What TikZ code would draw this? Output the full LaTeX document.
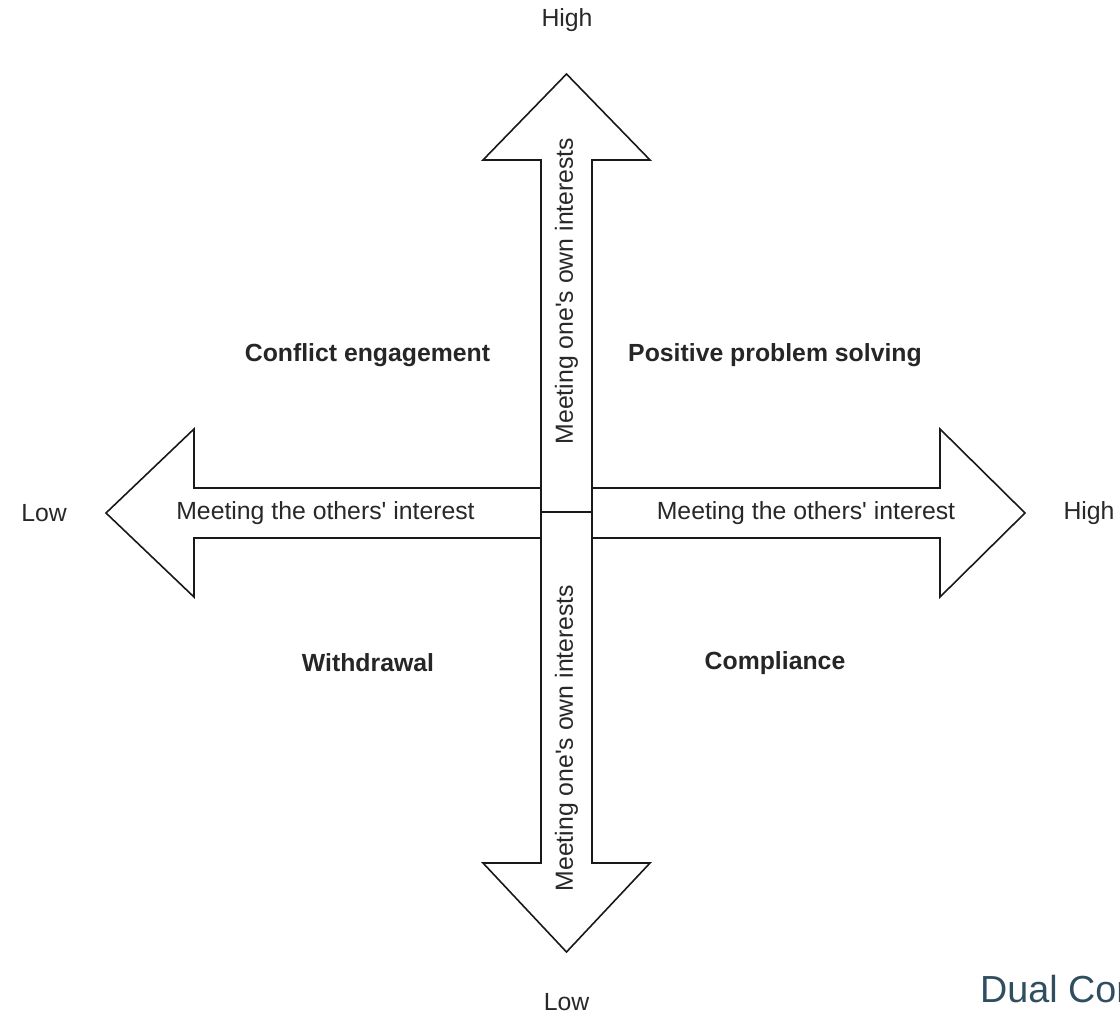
\documentclass[tikz,border=0pt]{standalone}
\usepackage{fontspec}
\setmainfont{Liberation Sans}
\usepackage{tikz}
\usetikzlibrary{positioning}
\usepackage{xcolor}
\definecolor{titleblue}{RGB}{47,79,97}
\definecolor{labelgray}{RGB}{40,40,40}

\begin{document}
\begin{tikzpicture}[x=1pt,y=-1pt,
    blockarrow/.style={draw=black!90, line width=1.6pt, fill=white, line join=miter},
    axislabel/.style={font=\fontsize{24.8}{29}\selectfont, text=labelgray, inner sep=0pt},
    zonelabel/.style={font=\fontsize{24.8}{29}\selectfont\bfseries, text=black!85, inner sep=0pt},
    endlabel/.style={font=\fontsize{24.8}{29}\selectfont, text=labelgray, inner sep=0pt}]
    \useasboundingbox (0,0) rectangle (1120,1014);
    \clip (0,0) rectangle (1120,1014);

    % Centre of the cross
    \coordinate (C) at (566.5,512);

    % Up arrow
    \draw[blockarrow] (541,512) -- (541,160) -- (483,160) -- (566.5,74) -- (650,160) -- (592,160) -- (592,512) -- cycle;
    % Down arrow
    \draw[blockarrow] (541,512) -- (541,863) -- (483,863) -- (566.5,952) -- (650,863) -- (592,863) -- (592,512) -- cycle;
    % Left arrow
    \draw[blockarrow] (541,488) -- (194,488) -- (194,429) -- (106,513) -- (194,597) -- (194,538) -- (541,538) -- cycle;
    % Right arrow
    \draw[blockarrow] (592,488) -- (940,488) -- (940,429) -- (1025,513) -- (940,597) -- (940,538) -- (592,538) -- cycle;

    % Labels inside the arrows
    \node[axislabel, rotate=90] (ownup) at (566.5,291) {Meeting one\textquotesingle s own interests};
    \node[axislabel, rotate=90] (owndown) at (566.5,738) {Meeting one\textquotesingle s own interests};
    \node[axislabel] (othersleft) at (325.5,513) {Meeting the others\textquotesingle\ interest};
    \node[axislabel] (othersright) at (806,513) {Meeting the others\textquotesingle\ interest};

    % Ends of the axes
    \node[endlabel] (hightop) at (567,20) {High};
    \node[endlabel] (lowbottom) at (566.5,1002) {Low};
    \node[endlabel] (lowleft) at (44,513) {Low};
    \node[endlabel] (highright) at (1089,513) {High};

    % Quadrants
    \node[zonelabel] (engage) at (367.5,355) {Conflict engagement};
    \node[zonelabel] (solve) at (775,355) {Positive problem solving};
    \node[zonelabel] (withdraw) at (368,663) {Withdrawal};
    \node[zonelabel] (comply) at (775,663) {Compliance};

    % Title, cut by the right edge
    \node[anchor=base west, inner sep=0pt, text=titleblue, font=\fontsize{37.7}{44}\selectfont] (title) at (980,1002) {Dual Concern Model};
\end{tikzpicture}
\end{document}
